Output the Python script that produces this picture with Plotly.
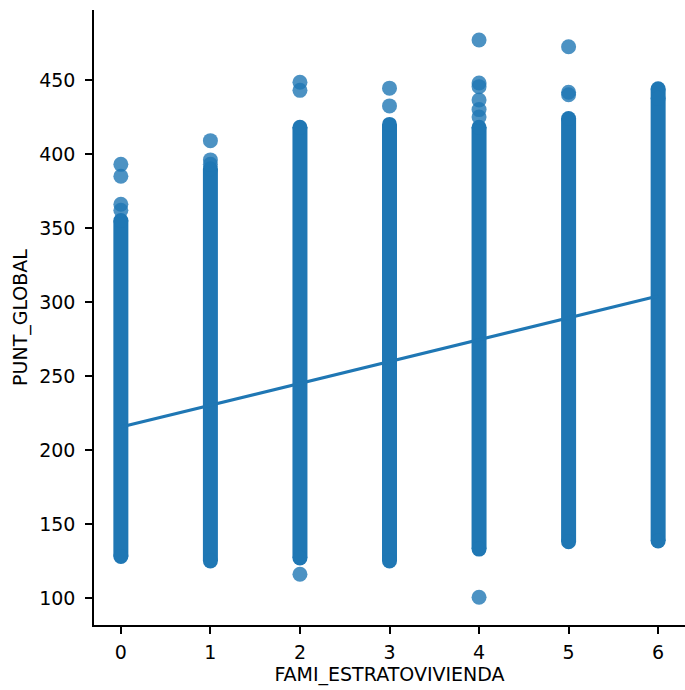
import plotly.graph_objects as go

# Categories (FAMI_ESTRATOVIVIENDA)
categories = [0, 1, 2, 3, 4, 5, 6]

# Dense core of each column (PUNT_GLOBAL low / high where points merge)
core_low = [128, 125, 127, 125, 133, 138, 138.5]
core_high = [355, 390, 418, 420, 418, 424, 444]

# Isolated points visible outside the dense core
outliers_0 = [393, 385, 366, 362]
outliers_1 = [409, 396, 393]
outliers_2 = [448.5, 443, 116]
outliers_3 = [444.5, 432.5]
outliers_4 = [477, 448, 445.5, 436.5, 430, 425, 100.5]
outliers_5 = [472.5, 441.7, 440]
outliers_6 = [437.6]

# Regression fit endpoints
fit_x = [0, 6]
fit_y = [215.5, 304]

y_ticks = [100, 150, 200, 250, 300, 350, 400, 450]
x_ticks = [0, 1, 2, 3, 4, 5, 6]

BLUE = "#1f77b4"

outliers = [outliers_0, outliers_1, outliers_2, outliers_3,
            outliers_4, outliers_5, outliers_6]

fig = go.Figure()

# dense cores
cx, cy = [], []
for c, lo, hi in zip(categories, core_low, core_high):
    cx += [c, c, None]
    cy += [lo, hi, None]
fig.add_trace(go.Scatter(
    x=cx, y=cy, mode="lines+markers",
    line=dict(color=BLUE, width=15),
    marker=dict(color=BLUE, size=15, line=dict(width=0)),
    hoverinfo="skip", showlegend=False))

# isolated points
sx, sy = [], []
for c, vals in zip(categories, outliers):
    for v in vals:
        sx.append(c)
        sy.append(v)
fig.add_trace(go.Scatter(
    x=sx, y=sy, mode="markers",
    marker=dict(color=BLUE, size=15, opacity=0.8, line=dict(width=0)),
    showlegend=False))

# regression line
fig.add_trace(go.Scatter(
    x=fit_x, y=fit_y, mode="lines",
    line=dict(color=BLUE, width=3.2),
    showlegend=False))

font = dict(family="DejaVu Sans", size=19, color="black")

fig.update_layout(
    width=685, height=690,
    margin=dict(l=94, r=0, t=10, b=65),
    paper_bgcolor="white", plot_bgcolor="white",
    font=font,
    xaxis=dict(
        range=[-0.3, 6.3], tickvals=x_ticks, ticktext=[str(t) for t in x_ticks],
        showgrid=False, zeroline=False,
        showline=True, linecolor="black", linewidth=1.5,
        ticks="outside", ticklen=7, tickwidth=1.5, tickcolor="black",
        ticklabelstandoff=2,
        title=dict(text="FAMI_ESTRATOVIVIENDA", font=font, standoff=6),
    ),
    yaxis=dict(
        range=[81.7, 497.3], tickvals=y_ticks, ticktext=[str(t) for t in y_ticks],
        showgrid=False, zeroline=False,
        showline=True, linecolor="black", linewidth=1.5,
        ticks="outside", ticklen=7, tickwidth=1.5, tickcolor="black",
        ticklabelstandoff=6,
        title=dict(text="PUNT_GLOBAL", font=font, standoff=7),
    ),
)

fig.write_html("out.html")
